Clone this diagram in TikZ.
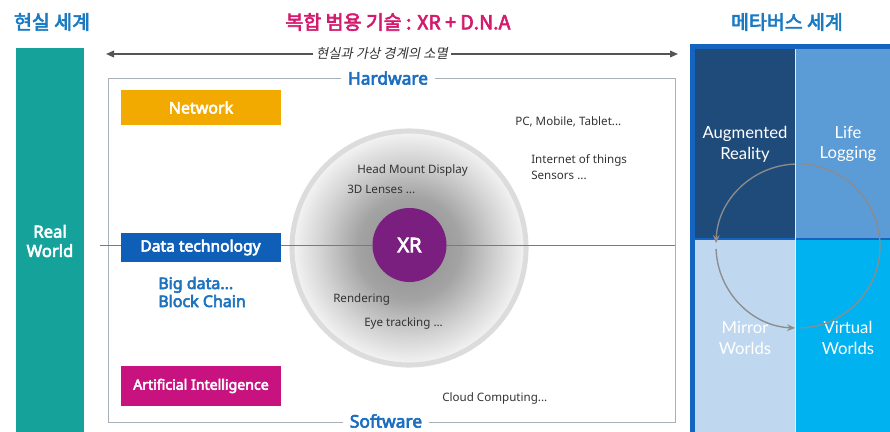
\documentclass[tikz,border=0pt]{standalone}
\usepackage{fontspec}
\setmainfont{Noto Sans}[BoldFont={Noto Sans}, BoldFeatures={FakeBold=3.6}]
\newfontfamily\kr{Noto Sans CJK KR}[BoldFont={Noto Sans CJK KR}, BoldFeatures={FakeBold=3.2}]
\newfontfamily\krsl[FakeSlant=0.2]{Noto Sans CJK KR}
\newfontfamily\quadfont{Lato}
\usetikzlibrary{arrows.meta}

\definecolor{realteal}{HTML}{15A29B}
\definecolor{titleblue}{HTML}{1B7BC2}
\definecolor{titlemag}{HTML}{D41A6E}
\definecolor{netc}{HTML}{F2A900}
\definecolor{datac}{HTML}{0F5FB8}
\definecolor{aic}{HTML}{C7127F}
\definecolor{xrc}{HTML}{7A1E80}
\definecolor{labblue}{HTML}{1E73BE}
\definecolor{hwblue}{HTML}{1C6FC0}
\definecolor{panelblue}{HTML}{1565C0}
\definecolor{qnavy}{HTML}{1F4B7A}
\definecolor{qsky}{HTML}{5B9BD6}
\definecolor{qpale}{HTML}{BFD8EF}
\definecolor{qcyan}{HTML}{00B3F0}
\definecolor{midline}{HTML}{5A7FB8}
\definecolor{txt}{HTML}{333333}
\definecolor{ringgray}{HTML}{DCDCDC}
\definecolor{framegray}{HTML}{A9B0B6}
\definecolor{arrowgray}{HTML}{555555}
\definecolor{cyclegray}{HTML}{8C8C8C}

% soft grey glow behind the XR core (radial shadings are enlarged by TikZ,
% so the stops sit inside roughly 35bp)
\pgfdeclareradialshading{xrglow}{\pgfpoint{0bp}{0bp}}{%
  color(0bp)=(black!45); color(11bp)=(black!36); color(19bp)=(black!17);
  color(27bp)=(white); color(50bp)=(white)}

\tikzset{
  title/.style={font=\kr\bfseries\fontsize{14.6}{15}\selectfont, inner sep=0pt},
  techbox/.style={inner sep=0pt, minimum width=120pt, text=white,
    font=\bfseries\fontsize{12}{12}\selectfont},
  note/.style={anchor=west, inner sep=0pt, text=txt,
    font=\fontsize{8.7}{12}\selectfont, align=left},
  quad/.style={inner sep=0pt, anchor=north west},
  quadlabel/.style={text=white, align=center, inner sep=0pt,
    font=\quadfont\fontsize{12.5}{15.5}\selectfont},
  layerlabel/.style={fill=white, inner xsep=5pt, inner ysep=1pt, text=hwblue,
    font=\bfseries\fontsize{13}{13}\selectfont},
  flow/.style={draw=arrowgray, line width=1.1pt, -{Triangle[length=6pt,width=5pt]}},
  cyclearc/.style={draw=cyclegray, line width=1pt},
  cycletip/.style={cyclearc, -{Stealth[length=6pt,width=5pt]}},
}

\begin{document}
\begin{tikzpicture}[x=0.75pt, y=-0.75pt]
\useasboundingbox (0,0) rectangle (890,432);

% headings
\node[title, text=titleblue] (realtitle) at (52,22) {현실 세계};
\node[title, text=titlemag] (gptitle) at (398,22) {복합 범용 기술 : XR + D.N.A};
\node[title, text=titleblue] (metatitle) at (787,22) {메타버스 세계};

% real world bar
\node[fill=realteal, inner sep=0pt, minimum width=51pt, minimum height=288pt,
      anchor=north west] (realbar) at (16,48) {};
\node[text=white, align=center, font=\bfseries\fontsize{12.5}{14.5}\selectfont]
  (realtext) at (50,241) {Real\\World};

% boundary arrow
\node[inner sep=2pt, text=txt, font=\krsl\fontsize{10}{10}\selectfont]
  (motto) at (382,54) {현실과 가상 경계의 소멸};
\coordinate (arrowL) at (106,54);
\coordinate (arrowR) at (678,54);
\draw[flow] (motto.west) -- (arrowL);
\draw[flow] (motto.east) -- (arrowR);

% technology frame
\node[draw=framegray, line width=0.7pt, inner sep=0pt,
      minimum width=425.25pt, minimum height=258pt] (frame) at (391.5,250) {};

% XR halo
\node[circle, draw=ringgray, line width=3.8pt, minimum size=175.5pt,
      inner sep=0pt, shading=xrglow] (ring) at (409,248) {};

% middle divider
\coordinate (divW) at (100,245);
\draw[midline, line width=0.6pt] (divW) -- (divW -| frame.east);

\node[layerlabel] (hw) at (388,78) {Hardware};
\node[layerlabel] (sw) at (386,421) {Software};

% technology boxes
\node[techbox, fill=netc, minimum height=26.5pt] (net) at (201,107.5) {Network};
\node[techbox, fill=datac, minimum height=22pt,
      font=\bfseries\fontsize{11.7}{11.7}\selectfont] (data) at (200.5,247.5) {Data technology};
\node[techbox, fill=aic, minimum height=29.5pt,
      font=\bfseries\fontsize{10.6}{10.6}\selectfont] (ai) at (201,386) {Artificial Intelligence};

\node[anchor=west, inner sep=0pt, align=left, text=labblue,
      font=\bfseries\fontsize{12}{13.5}\selectfont] (bigdata) at (158,292)
  {Big data...\\Block Chain};

% XR core
\node[circle, fill=xrc, minimum size=55.5pt, inner sep=0pt, text=white,
      font=\bfseries\fontsize{15}{15}\selectfont] (xr) at (409.5,245) {XR};

% notes
\node[note] (hmd) at (357,170) {Head Mount Display};
\node[note] (lens) at (347,189) {3D Lenses ...};
\node[note] (render) at (333,299) {Rendering};
\node[note] (eye) at (364,323) {Eye tracking ...};
\node[note] (pc) at (515,122) {PC, Mobile, Tablet...};
\node[note] (iot) at (531,167) {Internet of things\\Sensors ...};
\node[note] (cloud) at (442,398) {Cloud Computing...};

% metaverse panel
\node[fill=panelblue, inner sep=0pt, anchor=north west,
      minimum width=150pt, minimum height=291pt] (panel) at (690,44) {};
\node[quad, fill=qnavy, minimum width=75pt, minimum height=141.75pt] (qar) at (695,49) {};
\node[quad, fill=qsky, minimum width=70.5pt, minimum height=141.75pt] (qll) at (796,49) {};
\node[quad, fill=qpale, minimum width=75pt, minimum height=144pt] (qmw) at (695,240) {};
\node[quad, fill=qcyan, minimum width=70.5pt, minimum height=144pt] (qvw) at (796,240) {};
\draw[white!85!gray, line width=0.8pt] (qar.north east) -- (qmw.south east);

\node[quadlabel] (tar) at (745,144) {Augmented\\Reality};
\node[quadlabel] (tll) at (848,144) {Life\\Logging};
\node[quadlabel] (tmw) at (745,338) {Mirror\\Worlds};
\node[quadlabel] (tvw) at (848,338) {Virtual\\Worlds};

% metaverse cycle (angles run clockwise because y points down)
\coordinate (cyc) at (798,246);
\draw[cycletip] (cyc) ++(182:61.5pt) arc[start angle=182, end angle=268, radius=61.5pt];
\draw[cyclearc] (cyc) ++(272:61.5pt) arc[start angle=272, end angle=448, radius=61.5pt];
\draw[cycletip] (cyc) ++(92:61.5pt) arc[start angle=92, end angle=178, radius=61.5pt];
\end{tikzpicture}
\end{document}
